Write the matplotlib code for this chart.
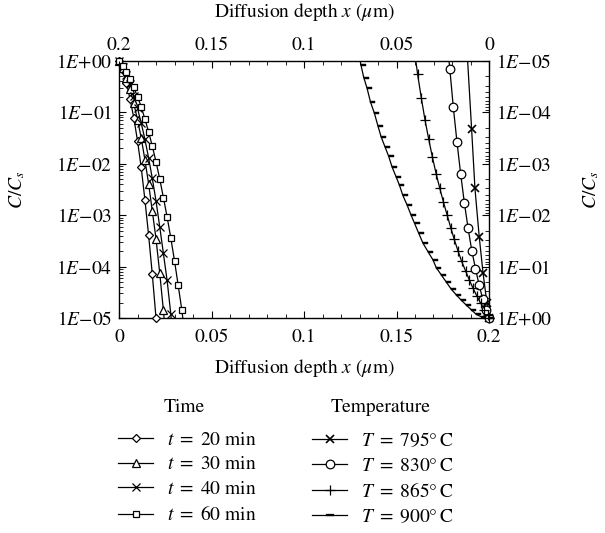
import numpy as np
import matplotlib
matplotlib.use("Agg")
import matplotlib.pyplot as plt
from matplotlib.path import Path
from matplotlib.lines import Line2D
from matplotlib.ticker import MultipleLocator, LogLocator, NullFormatter, FuncFormatter

plt.rcParams['font.family'] = 'STIXGeneral'
plt.rcParams['mathtext.fontset'] = 'stix'
plt.rcParams['font.size'] = 14

# ---- data: time series (bottom / left axes), depth in um, C/Cs
# last point of each list is where the line leaves the frame (no marker)
depth_t20 = [0, 0.002, 0.004, 0.006, 0.008, 0.010, 0.012, 0.014, 0.016, 0.018, 0.020, 0.020]
conc_t20 = [1.0, 0.66, 0.38, 0.18, 7.8e-2, 2.8e-2, 8.5e-3, 2.0e-3, 4.1e-4, 7.1e-5, 1.0e-5, 1.0e-5]

depth_t30 = [0, 0.002, 0.004, 0.006, 0.008, 0.010, 0.012, 0.014, 0.016, 0.018, 0.020, 0.022, 0.024, 0.0246]
conc_t30 = [1.0, 0.72, 0.47, 0.28, 0.15, 7.2e-2, 3.2e-2, 1.2e-2, 4.1e-3, 1.2e-3, 3.5e-4, 7.6e-5, 1.4e-5, 8e-6]

depth_t40 = [0, 0.002, 0.004, 0.006, 0.008, 0.010, 0.012, 0.014, 0.016, 0.018, 0.020, 0.022, 0.024,
             0.026, 0.028, 0.0284]
conc_t40 = [1.0, 0.76, 0.54, 0.35, 0.21, 0.12, 6.2e-2, 3.0e-2, 1.3e-2, 5.2e-3, 1.9e-3, 6.0e-4, 1.8e-4,
            5.4e-5, 1.2e-5, 8e-6]

depth_t60 = [0, 0.002, 0.004, 0.006, 0.008, 0.010, 0.012, 0.014, 0.016, 0.018, 0.020, 0.022, 0.024,
             0.026, 0.028, 0.030, 0.032, 0.034, 0.0348]
conc_t60 = [1.0, 0.79, 0.62, 0.45, 0.31, 0.20, 0.13, 7.4e-2, 4.2e-2, 2.2e-2, 1.1e-2, 5.1e-3, 2.2e-3,
            9.3e-4, 3.6e-4, 1.3e-4, 4.3e-5, 1.4e-5, 8e-6]

# ---- data: temperature series (top / right axes, both reversed)
depth_T795 = [0, 0.0011, 0.0032, 0.0053, 0.0076, 0.0094, 0.0117]
conc_T795 = [1.0, 0.52, 0.135, 2.6e-2, 3.0e-3, 2.1e-4, 8e-6]

depth_T830 = [0, 0.0015, 0.0034, 0.0053, 0.0073, 0.0093, 0.0113, 0.0133, 0.0153, 0.0173, 0.0193,
              0.0212, 0.0219]
conc_T830 = [1.0, 0.69, 0.43, 0.23, 0.11, 4.9e-2, 1.8e-2, 5.8e-3, 1.6e-3, 3.8e-4, 7.9e-5,
             1.4e-5, 8e-6]

depth_T865 = [0, 0.0007, 0.0025, 0.0045, 0.0066, 0.0087, 0.0107, 0.0127, 0.0148, 0.0168, 0.0188,
              0.0207, 0.0226, 0.0246, 0.0266, 0.0286, 0.0306, 0.0326, 0.0346, 0.0366, 0.0386, 0.0399]
conc_T865 = [1.0, 0.87, 0.69, 0.51, 0.37, 0.26, 0.18, 0.12, 7.9e-2, 4.9e-2, 2.95e-2,
             1.74e-2, 1.0e-2, 5.6e-3, 3.0e-3, 1.55e-3, 7.4e-4, 3.3e-4, 1.4e-4, 5.2e-5, 1.8e-5, 8e-6]

depth_T900 = [0, 0.0041, 0.0069, 0.0096, 0.0123, 0.0150, 0.0177, 0.0204, 0.0231, 0.0258, 0.0285,
              0.0303, 0.0330, 0.0357, 0.0381, 0.0402, 0.0421, 0.0443, 0.0466, 0.0484, 0.0502,
              0.0524, 0.0542, 0.0562, 0.0583, 0.0601, 0.0619, 0.0641, 0.0659, 0.0677, 0.0692, 0.0702]
conc_T900 = [1.0, 0.95, 0.85, 0.69, 0.56, 0.45, 0.355, 0.275, 0.20, 0.145, 0.105,
             7.4e-2, 5.1e-2, 3.5e-2, 2.2e-2, 1.45e-2, 1.0e-2, 6.3e-3, 4.1e-3, 2.6e-3, 1.8e-3,
             1.15e-3, 7.2e-4, 4.7e-4, 3.0e-4, 1.8e-4, 1.05e-4, 6.2e-5, 3.4e-5, 2.1e-5, 1.2e-5, 8e-6]

time_labels = [r'$t\,$ = $\,$20 min', r'$t\,$ = $\,$30 min', r'$t\,$ = $\,$40 min', r'$t\,$ = $\,$60 min']
temp_labels = [r'$T\,$ = $\,$795°$\,$C', r'$T\,$ = $\,$830°$\,$C', r'$T\,$ = $\,$865°$\,$C',
               r'$T\,$ = $\,$900°$\,$C']
xticks = [0, 0.05, 0.1, 0.15, 0.2]

# bar marker that starts at the data point and sticks out to the right
bar_right = Path([(0, -0.22), (1, -0.22), (1, 0.22), (0, 0.22), (0, -0.22)],
                 [Path.MOVETO, Path.LINETO, Path.LINETO, Path.LINETO, Path.CLOSEPOLY])
bar_mid = Path([(-1, -0.3), (1, -0.3), (1, 0.3), (-1, 0.3), (-1, -0.3)],
               [Path.MOVETO, Path.LINETO, Path.LINETO, Path.LINETO, Path.CLOSEPOLY])

time_styles = [dict(marker='D', ms=4.4), dict(marker='^', ms=5.2),
               dict(marker='x', ms=5.5), dict(marker='s', ms=5.0)]
temp_styles = [dict(marker='x', ms=5.5, mew=1.2), dict(marker='o', ms=6.2),
               dict(marker='+', ms=7), dict(marker=bar_right, ms=7.2)]

fig = plt.figure(figsize=(6.05, 5.33), dpi=100)
pos = [119 / 605, 1 - 318 / 533, 370 / 605, 257 / 533]
ax = fig.add_axes(pos)
ax2 = fig.add_axes(pos, frameon=False)

lw = 0.9


def draw(a, xs, ys, st):
    a.plot(xs, ys, color='k', lw=lw, zorder=2)
    kw = dict(mew=0.9, mfc='white', mec='k')
    kw.update(st)
    a.plot(xs[:-1], ys[:-1], ls='none', color='k', clip_on=False, zorder=3, **kw)


for xs, ys, st in zip([depth_t20, depth_t30, depth_t40, depth_t60],
                      [conc_t20, conc_t30, conc_t40, conc_t60], time_styles):
    draw(ax, xs, ys, st)

for xs, ys, st in zip([depth_T795, depth_T830, depth_T865, depth_T900],
                      [conc_T795, conc_T830, conc_T865, conc_T900], temp_styles):
    st = dict(st)
    if st['marker'] is bar_right:
        st['mfc'] = 'k'
        st['mew'] = 0.3
    draw(ax2, xs, ys, st)

ax.set_xlim(0, 0.2)
ax.set_yscale('log')
ax.set_ylim(1e-5, 1)
ax2.set_xlim(0.2, 0)
ax2.set_yscale('log')
ax2.set_ylim(1, 1e-5)

ax2.xaxis.tick_top()
ax2.xaxis.set_label_position('top')
ax2.yaxis.tick_right()
ax2.yaxis.set_label_position('right')


def efmt(v, p):
    e = int(round(np.log10(v)))
    sign = '+' if e >= 0 else '-'
    return r'$1E{%s}%02d$' % (sign, abs(e))


for a in (ax, ax2):
    a.set_xticks(xticks)
    a.xaxis.set_minor_locator(MultipleLocator(0.01))
    a.xaxis.set_major_formatter(FuncFormatter(lambda v, p: '%g' % round(v, 4)))
    a.yaxis.set_major_locator(LogLocator(base=10, numticks=10))
    a.yaxis.set_minor_locator(LogLocator(base=10, subs=np.arange(2, 10), numticks=10))
    a.yaxis.set_minor_formatter(NullFormatter())
    a.yaxis.set_major_formatter(FuncFormatter(efmt))
    a.tick_params(which='major', direction='in', length=5, width=0.8, labelsize=14, pad=5)
    a.tick_params(which='minor', direction='in', length=3, width=0.6)

ax.tick_params(which='both', top=False, right=False)
ax.tick_params(axis='x', which='major', pad=8)
ax2.tick_params(which='both', bottom=False, left=False, top=True, right=True)

for s in ax.spines.values():
    s.set_linewidth(1.0)

xl = r'Diffusion depth $x$ ($\mu$m)'
ax.set_xlabel(xl, fontsize=14, labelpad=8)
ax2.set_xlabel(xl, fontsize=14, labelpad=14)
ax.set_ylabel(r'$C/C_s$', fontsize=14, labelpad=21)
ax2.set_ylabel(r'$C/C_s$', fontsize=14, labelpad=21)

# legends: column headers as plain text, entries as two frameless legends
th = []
for st in time_styles:
    th.append(Line2D([], [], color='k', lw=lw, mfc='white', mec='k', mew=0.9, **st))
Th = []
for st in temp_styles:
    st = dict(st)
    if st['marker'] is bar_right:
        st.update(marker=bar_mid, ms=6, mfc='k', mew=0.2)
    else:
        st.setdefault('mfc', 'white')
    Th.append(Line2D([], [], color='k', lw=lw, mec='k', **{'mew': 0.9, **st}))

fig.text(184 / 605, 1 - 407 / 533, 'Time', ha='center', va='center', fontsize=14)
fig.text(381 / 605, 1 - 407 / 533, 'Temperature', ha='center', va='center', fontsize=14)

leg_kw = dict(loc='upper left', frameon=False, handlelength=1.8, handletextpad=0.7,
              labelspacing=0.37, borderpad=0, borderaxespad=0, fontsize=14)
fig.legend(th, time_labels, bbox_to_anchor=(118 / 605, 1 - 431 / 533), **leg_kw)
fig.legend(Th, temp_labels, bbox_to_anchor=(312 / 605, 1 - 431 / 533), **leg_kw)

fig.savefig('out.png', dpi=100)
